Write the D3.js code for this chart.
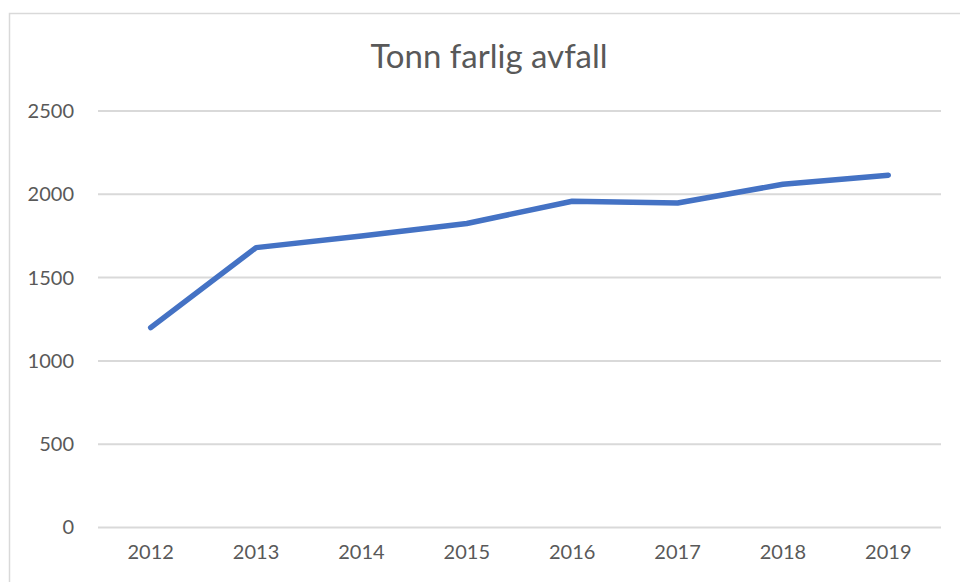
<!DOCTYPE html>
<html>
<head>
<meta charset="utf-8">
<script src="https://cdn.jsdelivr.net/npm/d3@7"></script>
<style>
    body { margin: 0; background: #fff; }
    svg text { font-family: Lato, "Open Sans", sans-serif; fill: #595959; }
</style>
</head>
<body>
<svg id="linechart" width="960" height="582"></svg>
<script>
var years = ["2012", "2013", "2014", "2015", "2016", "2017", "2018", "2019"];
var tonn = [1200, 1680, 1750, 1825, 1958, 1948, 2060, 2115];
var yTicks = [0, 500, 1000, 1500, 2000, 2500];
var title = "Tonn farlig avfall";

lineChart();

function lineChart() {

    var svg = d3.select("#linechart"),
        margin = {top: 111, right: 19, bottom: 55, left: 98},
        width = +svg.attr("width") - margin.left - margin.right,
        height = 527.5 - margin.top;

    // chart area border (cut off at right/bottom)
    svg.append("rect")
        .attr("x", 9.5)
        .attr("y", 13.5)
        .attr("width", 1000)
        .attr("height", 1000)
        .attr("fill", "none")
        .attr("stroke", "#d9d9d9")
        .attr("stroke-width", 1.5);

    svg.append("text")
        .attr("x", 489)
        .attr("y", 68)
        .attr("text-anchor", "middle")
        .style("font-size", "33px")
        .text(title);

    var g = svg.append("g")
        .attr("transform", "translate(" + margin.left + "," + margin.top + ")");

    var x = d3.scaleBand().domain(years).range([0, width]);
    var y = d3.scaleLinear().domain([0, 2500]).range([height, 0]);

    var data = years.map(function (d, i) { return {year: d, value: tonn[i]}; });

    // grid
    g.selectAll(".grid")
        .data(yTicks)
        .enter().append("line")
        .attr("class", "grid")
        .attr("x1", 0)
        .attr("x2", width)
        .attr("y1", function (d) { return y(d); })
        .attr("y2", function (d) { return y(d); })
        .attr("stroke", "#d9d9d9")
        .attr("stroke-width", 2);

    var yAxis = g.append("g")
        .call(d3.axisLeft(y).tickValues(yTicks).tickFormat(d3.format("d")).tickSize(0).tickPadding(24));
    yAxis.select(".domain").remove();
    yAxis.selectAll("text").style("font-size", "20px").attr("fill", "#595959");

    var xAxis = g.append("g")
        .attr("transform", "translate(0," + height + ")")
        .call(d3.axisBottom(x).tickSize(0).tickPadding(17));
    xAxis.select(".domain").remove();
    xAxis.selectAll("text").style("font-size", "20px").attr("fill", "#595959");

    var line = d3.line()
        .x(function (d) { return x(d.year) + x.bandwidth() / 2; })
        .y(function (d) { return y(d.value); });

    g.append("path")
        .datum(data)
        .attr("d", line)
        .attr("fill", "none")
        .attr("stroke", "#4472c4")
        .attr("stroke-width", 5.5)
        .attr("stroke-linecap", "round")
        .attr("stroke-linejoin", "round");
}
</script>
</body>
</html>
